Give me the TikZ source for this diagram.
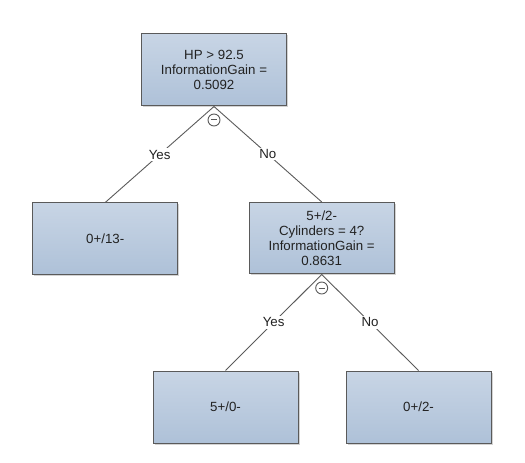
\documentclass[tikz,border=0pt]{standalone}
\usepackage{fontspec}
\setmainfont{Liberation Sans}
\usetikzlibrary{shadows}
\definecolor{boxtop}{RGB}{200,213,229}
\definecolor{boxbot}{RGB}{174,193,216}
\definecolor{edgegray}{RGB}{90,90,90}
\definecolor{txt}{RGB}{34,34,34}
\tikzset{
  treebox/.style={draw=edgegray, line width=1bp, top color=boxtop, bottom color=boxbot,
    minimum width=145bp, minimum height=72bp, inner sep=2bp, align=center,
    text=txt, font=\fontsize{13.3bp}{15bp}\selectfont,
    drop shadow={shadow xshift=1.5bp, shadow yshift=-1.5bp, opacity=0.35, fill=gray}},
  conn/.style={draw=edgegray, line width=0.9bp},
  edgelabel/.style={fill=white, inner sep=1.5bp, text=txt, font=\fontsize{13.3bp}{15bp}\selectfont},
  collapse/.style={circle, draw=edgegray, line width=0.9bp, fill=white, minimum size=12bp, inner sep=0pt,
    path picture={\draw[edgegray, line width=1bp] ([xshift=-3bp]path picture bounding box.center) -- ([xshift=3bp]path picture bounding box.center);}}
}
\begin{document}
\begin{tikzpicture}[x=1bp,y=-1bp]
\useasboundingbox (0,0) rectangle (525,463);
\node[treebox] (root) at (214,70) {HP > 92.5\\InformationGain =\\0.5092};
\node[treebox, minimum width=144.5bp, minimum height=71bp] (L) at (105.2,238.5) {0+/13-};
\node[treebox, minimum height=71.5bp] (M) at (321.7,238.2) {5+/2-\\Cylinders = 4?\\InformationGain =\\0.8631};
\node[treebox] (BL) at (225.5,407) {5+/0-};
\node[treebox] (BR) at (418.5,407) {0+/2-};
\draw[conn] (root.south) -- node[edgelabel] (y1) {Yes} (L.north);
\draw[conn] (root.south) -- node[edgelabel] (n1) {No} (M.north);
\draw[conn] (M.south) -- node[edgelabel] (y2) {Yes} (BL.north);
\draw[conn] (M.south) -- node[edgelabel] (n2) {No} (BR.north);
\node[collapse] (c1) at (214,120) {};
\node[collapse] (c2) at (321.7,288) {};
\end{tikzpicture}
\end{document}
